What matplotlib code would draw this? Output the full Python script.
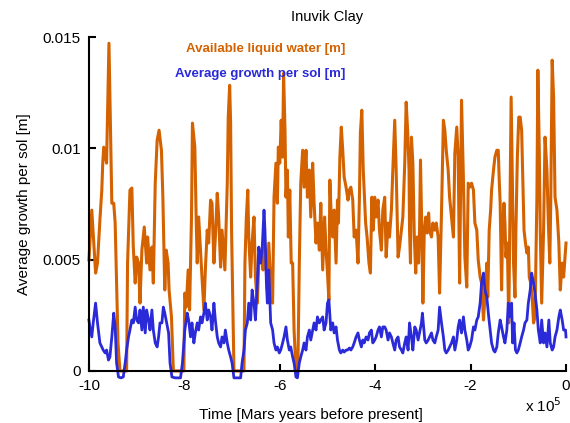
import matplotlib
matplotlib.use("Agg")
import matplotlib.pyplot as plt

plt.rcParams['font.family'] = ['Liberation Sans', 'DejaVu Sans']

# time in units of 1e5 Mars years (negative = before present)
water_t = [-10.0, -9.94, -9.86, -9.82, -9.77, -9.73, -9.71, -9.69, -9.63, -9.58,
           -9.52, -9.48, -9.45, -9.42, -9.39, -9.35, -9.21, -9.19, -9.14, -9.10,
           -9.07, -9.03, -9.00, -8.96, -8.93, -8.89, -8.84, -8.79, -8.77, -8.72,
           -8.68, -8.65, -8.61, -8.57, -8.53, -8.48, -8.45, -8.41, -8.38, -8.34,
           -8.32, -8.27, -8.23, -8.01, -7.99, -7.96, -7.92, -7.89, -7.85, -7.83,
           -7.78, -7.75, -7.73, -7.70, -7.67, -7.63, -7.59, -7.56, -7.52, -7.49,
           -7.45, -7.42, -7.38, -7.35, -7.31, -7.28, -7.24, -7.21, -7.15, -7.10,
           -7.08, -7.05, -7.03, -7.01, -6.98, -6.96, -6.75, -6.73, -6.70, -6.67,
           -6.65, -6.61, -6.58, -6.54, -6.51, -6.47, -6.44, -6.40, -6.35, -6.33,
           -6.29, -6.26, -6.23, -6.19, -6.15, -6.12, -6.08, -6.05, -6.03, -6.00,
           -5.97, -5.94, -5.92, -5.89, -5.87, -5.84, -5.82, -5.79, -5.76, -5.73,
           -5.70, -5.66, -5.62, -5.59, -5.56, -5.52, -5.49, -5.45, -5.42, -5.38,
           -5.35, -5.31, -5.28, -5.24, -5.21, -5.17, -5.14, -5.10, -5.06, -5.03,
           -5.00, -4.97, -4.95, -4.92, -4.89, -4.86, -4.82, -4.79, -4.77, -4.74,
           -4.71, -4.68, -4.65, -4.61, -4.57, -4.54, -4.51, -4.47, -4.44, -4.40,
           -4.36, -4.33, -4.31, -4.28, -4.25, -4.20, -4.17, -4.13, -4.10, -4.07,
           -4.04, -4.01, -3.98, -3.94, -3.91, -3.87, -3.84, -3.80, -3.77, -3.73,
           -3.70, -3.66, -3.63, -3.59, -3.56, -3.52, -3.49, -3.45, -3.42, -3.38,
           -3.35, -3.32, -3.29, -3.28, -3.26, -3.24, -3.21, -3.18, -3.15, -3.12,
           -3.09, -3.07, -3.05, -3.02, -3.00, -2.97, -2.94, -2.91, -2.88, -2.86,
           -2.82, -2.79, -2.75, -2.72, -2.68, -2.65, -2.61, -2.57, -2.54, -2.51,
           -2.47, -2.44, -2.40, -2.36, -2.33, -2.29, -2.26, -2.23, -2.19, -2.15,
           -2.12, -2.08, -2.05, -2.02, -1.98, -1.94, -1.91, -1.87, -1.84, -1.80,
           -1.77, -1.73, -1.70, -1.66, -1.64, -1.61, -1.58, -1.56, -1.52, -1.49,
           -1.45, -1.42, -1.40, -1.38, -1.36, -1.35, -1.33, -1.30, -1.28, -1.26,
           -1.23, -1.20, -1.17, -1.15, -1.12, -1.10, -1.07, -1.05, -1.02, -0.99,
           -0.96, -0.93, -0.91, -0.88, -0.85, -0.82, -0.79, -0.77, -0.74, -0.71,
           -0.68, -0.65, -0.61, -0.59, -0.56, -0.54, -0.51, -0.47, -0.44, -0.40,
           -0.37, -0.34, -0.32, -0.29, -0.26, -0.23, -0.19, -0.15, -0.12, -0.08,
           -0.05, -0.01, 0.0]
# available liquid water, mm
water_mm = [4.99, 7.23, 4.40, 4.85, 6.78, 8.13, 9.34, 10.06, 9.34, 14.73,
            7.54, 7.54, 6.65, 3.95, 1.26, 0.0, 0.0, 4.85, 8.13, 8.22,
            5.57, 3.95, 5.12, 4.85, 3.05, 5.43, 6.47, 4.85, 6.02, 4.54,
            5.57, 3.95, 8.44, 10.37, 10.82, 9.92, 7.81, 3.64, 5.43, 4.85,
            3.64, 2.43, 0.0, 0.0, 3.50, 2.87, 4.54, 2.74, 6.92, 11.14,
            10.06, 6.65, 4.85, 6.92, 5.75, 4.22, 2.74, 4.54, 6.33, 5.75,
            7.68, 7.54, 4.85, 6.02, 7.99, 6.92, 4.67, 6.33, 4.54, 8.44,
            11.41, 12.84, 11.14, 6.33, 2.60, 0.0, 0.0, 4.85, 6.92, 8.13,
            6.02, 4.22, 5.75, 6.92, 4.22, 3.05, 4.85, 5.43, 4.54, 6.33,
            4.85, 3.64, 5.75, 3.95, 3.05, 7.81, 9.34, 7.54, 10.06, 9.34,
            11.27, 9.61, 13.38, 10.82, 7.81, 9.03, 6.02, 8.13, 4.85, 4.85,
            1.84, 0.0, 0.13, 4.85, 8.44, 9.92, 8.26, 9.92, 7.81, 9.03,
            6.92, 9.34, 7.54, 5.75, 6.65, 5.43, 7.54, 4.54, 6.92, 5.43,
            4.40, 3.19, 8.58, 6.92, 6.02, 7.23, 4.85, 7.68, 6.65, 9.61,
            10.96, 9.92, 8.71, 8.26, 7.68, 8.13, 8.26, 7.68, 6.02, 6.33,
            4.85, 7.81, 10.69, 11.72, 9.03, 6.65, 6.02, 4.85, 4.40, 7.81,
            6.33, 7.81, 6.92, 7.68, 6.33, 5.43, 7.23, 7.81, 5.12, 6.65,
            6.02, 7.23, 9.03, 11.27, 9.03, 5.12, 5.57, 6.33, 6.92, 9.34,
            12.08, 10.82, 9.03, 6.33, 4.85, 10.51, 9.34, 6.02, 4.40, 6.02,
            4.85, 6.33, 9.48, 6.02, 3.05, 6.33, 6.92, 6.20, 7.10, 6.33,
            6.02, 6.65, 6.33, 6.65, 6.02, 3.50, 7.10, 11.27, 10.82, 9.92,
            9.03, 7.81, 6.92, 6.02, 9.79, 10.96, 9.61, 3.95, 12.17, 8.58,
            5.12, 3.77, 8.44, 8.26, 8.44, 8.13, 6.65, 6.33, 4.99, 4.22,
            3.95, 2.29, 3.32, 4.85, 3.32, 6.33, 7.23, 8.13, 9.03, 9.61,
            9.92, 9.92, 8.58, 7.54, 4.85, 3.64, 6.33, 7.54, 6.65, 5.12,
            5.75, 2.16, 8.44, 12.31, 7.81, 4.85, 3.32, 6.33, 9.61, 11.41,
            11.41, 10.82, 9.03, 6.33, 5.75, 5.30, 5.57, 4.22, 3.95, 3.32,
            2.16, 2.43, 7.81, 13.52, 9.92, 6.33, 3.05, 6.33, 10.51, 9.03,
            6.65, 4.85, 7.54, 13.97, 12.31, 7.81, 7.23, 5.75, 3.64, 4.85,
            4.22, 5.43, 5.75]

growth_t = [-10.0, -9.98, -9.94, -9.91, -9.86, -9.82, -9.77, -9.73, -9.70, -9.66,
            -9.63, -9.59, -9.56, -9.52, -9.48, -9.45, -9.42, -9.38, -9.33, -9.28,
            -9.24, -9.21, -9.17, -9.14, -9.10, -9.07, -9.03, -9.00, -8.96, -8.93,
            -8.89, -8.86, -8.82, -8.79, -8.75, -8.72, -8.68, -8.65, -8.61, -8.57,
            -8.54, -8.51, -8.47, -8.44, -8.41, -8.37, -8.33, -8.30, -8.26, -8.19,
            -8.08, -8.04, -7.99, -7.94, -7.91, -7.87, -7.84, -7.80, -7.77, -7.73,
            -7.70, -7.66, -7.63, -7.59, -7.56, -7.52, -7.49, -7.45, -7.42, -7.38,
            -7.35, -7.31, -7.28, -7.24, -7.21, -7.17, -7.14, -7.10, -7.07, -7.03,
            -7.00, -6.96, -6.82, -6.79, -6.75, -6.72, -6.68, -6.65, -6.61, -6.58,
            -6.54, -6.51, -6.47, -6.44, -6.40, -6.37, -6.33, -6.31, -6.28, -6.26,
            -6.23, -6.19, -6.15, -6.12, -6.08, -6.05, -6.01, -5.98, -5.94, -5.91,
            -5.87, -5.84, -5.80, -5.77, -5.73, -5.70, -5.66, -5.63, -5.59, -5.56,
            -5.52, -5.49, -5.45, -5.42, -5.38, -5.35, -5.31, -5.28, -5.24, -5.21,
            -5.17, -5.14, -5.10, -5.07, -5.03, -5.00, -4.97, -4.93, -4.89, -4.86,
            -4.82, -4.79, -4.75, -4.72, -4.68, -4.65, -4.61, -4.58, -4.54, -4.51,
            -4.47, -4.44, -4.40, -4.36, -4.33, -4.29, -4.26, -4.23, -4.19, -4.15,
            -4.12, -4.08, -4.05, -4.01, -3.98, -3.94, -3.91, -3.87, -3.84, -3.80,
            -3.77, -3.73, -3.70, -3.66, -3.63, -3.59, -3.56, -3.52, -3.49, -3.45,
            -3.42, -3.38, -3.35, -3.31, -3.28, -3.24, -3.21, -3.17, -3.14, -3.10,
            -3.07, -3.03, -3.01, -2.98, -2.96, -2.93, -2.89, -2.86, -2.82, -2.79,
            -2.75, -2.72, -2.68, -2.65, -2.61, -2.57, -2.54, -2.51, -2.47, -2.44,
            -2.40, -2.36, -2.33, -2.29, -2.26, -2.23, -2.19, -2.15, -2.12, -2.08,
            -2.05, -2.02, -1.98, -1.94, -1.91, -1.87, -1.84, -1.80, -1.77, -1.73,
            -1.70, -1.66, -1.62, -1.59, -1.56, -1.52, -1.49, -1.45, -1.42, -1.38,
            -1.35, -1.31, -1.28, -1.24, -1.21, -1.17, -1.14, -1.12, -1.09, -1.06,
            -1.03, -1.00, -0.96, -0.93, -0.89, -0.86, -0.82, -0.79, -0.75, -0.72,
            -0.68, -0.65, -0.61, -0.58, -0.54, -0.51, -0.47, -0.44, -0.40, -0.36,
            -0.33, -0.29, -0.26, -0.23, -0.19, -0.15, -0.12, -0.08, -0.05, -0.01,
            0.0]
# average growth per sol, mm
growth_mm = [2.29, 1.98, 1.53, 2.16, 3.05, 2.16, 1.26, 1.08, 0.94, 0.81,
             0.94, 0.49, 0.63, 1.53, 2.60, 1.98, 0.36, -0.27, -0.31, -0.27,
             0.36, 0.94, 1.53, 1.84, 2.29, 2.16, 2.87, 2.29, 2.16, 2.74,
             1.84, 2.87, 1.71, 2.74, 2.29, 1.84, 2.74, 1.84, 1.26, 1.08,
             1.53, 2.16, 2.16, 2.87, 2.60, 2.16, 1.71, 0.36, -0.27, -0.31,
             -0.31, 0.36, 1.84, 2.60, 2.29, 1.53, 2.16, 1.26, 1.71, 2.16,
             1.84, 2.43, 2.16, 2.60, 3.05, 2.29, 2.74, 2.43, 1.84, 3.05,
             2.29, 1.53, 1.26, 1.08, 1.53, 1.26, 1.84, 1.26, 0.94, 0.63,
             0.36, -0.31, -0.31, 0.36, 0.94, 1.84, 2.16, 3.05, 2.29, 3.64,
             3.05, 2.29, 3.95, 5.57, 4.85, 5.43, 7.23, 6.33, 3.95, 3.05,
             4.54, 2.16, 1.84, 1.26, 0.94, 1.08, 0.81, 0.94, 1.26, 1.53,
             1.98, 1.39, 0.94, 1.08, 0.63, 0.36, -0.27, -0.31, 0.36, 0.63,
             0.94, 1.26, 0.94, 1.53, 1.84, 1.39, 1.84, 2.16, 1.84, 2.43,
             2.16, 2.29, 2.43, 1.84, 2.16, 3.05, 3.19, 1.84, 2.16, 1.71,
             1.98, 1.39, 0.94, 0.81, 0.94, 0.85, 0.94, 0.94, 1.03, 0.94,
             1.08, 1.26, 1.53, 1.71, 1.39, 1.08, 1.39, 1.26, 1.53, 1.39,
             1.71, 1.84, 1.26, 1.39, 1.53, 1.84, 1.98, 1.53, 1.98, 1.98,
             1.84, 1.39, 1.71, 1.53, 1.26, 0.94, 1.39, 1.53, 1.08, 0.94,
             0.81, 1.26, 1.53, 0.94, 2.16, 1.53, 0.94, 1.98, 1.84, 1.39,
             1.71, 2.16, 2.60, 1.84, 1.39, 1.26, 1.39, 1.53, 1.71, 1.39,
             1.26, 1.53, 1.84, 2.87, 2.16, 1.53, 0.94, 0.81, 0.94, 1.08,
             1.26, 1.53, 0.94, 1.39, 1.98, 2.29, 1.71, 2.43, 1.84, 1.39,
             0.94, 1.08, 1.39, 1.98, 1.84, 2.29, 2.43, 3.05, 3.95, 4.40,
             3.64, 3.32, 2.43, 1.84, 1.26, 0.94, 0.85, 1.08, 1.71, 2.29,
             1.98, 1.53, 1.26, 1.84, 3.05, 2.43, 3.05, 1.26, 2.16, 0.94,
             0.81, 0.94, 1.26, 1.53, 1.84, 2.16, 2.29, 3.05, 3.64, 4.40,
             3.95, 3.50, 2.74, 1.84, 1.26, 2.29, 1.26, 1.71, 1.08, 2.29,
             1.26, 0.94, 1.08, 1.53, 1.84, 2.43, 2.74, 2.29, 1.84, 1.84,
             1.53]

xticks = [-10, -8, -6, -4, -2, 0]
yticks = [0, 0.005, 0.01, 0.015]
ytick_labels = ['0', '0.005', '0.01', '0.015']

orange = '#d46200'
blue = '#2a2ad8'

fig = plt.figure(figsize=(5.7, 4.23), dpi=100)
ax = fig.add_axes([0.156, 0.123, 0.837, 0.789])

ax.plot(water_t, [v / 1000 for v in water_mm], color=orange, lw=2.2, clip_on=False)
ax.plot(growth_t, [v / 1000 for v in growth_mm], color=blue, lw=2.0, clip_on=False)

ax.set_xlim(-10, 0)
ax.set_ylim(0, 0.015)
ax.set_xticks(xticks)
ax.set_xticklabels([str(t) for t in xticks])
ax.set_yticks(yticks)
ax.set_yticklabels(ytick_labels)
ax.tick_params(direction='in', length=5, width=1.5, labelsize=11, pad=6)

for side in ['top', 'right']:
    ax.spines[side].set_visible(False)
for side in ['left', 'bottom']:
    ax.spines[side].set_linewidth(1.5)

ax.set_title('Inuvik Clay', fontsize=10.5, pad=12)
ax.set_ylabel('Average growth per sol [m]', fontsize=11, labelpad=8)
ax.set_xlabel('Time [Mars years before present]', fontsize=11)
ax.xaxis.set_label_coords(0.465, -0.11)

ax.text(0.99, -0.105, r'x 10$^5$', transform=ax.transAxes, ha='right', va='center', fontsize=11)

ax.text(0.538, 0.965, 'Available liquid water [m]', transform=ax.transAxes,
        ha='right', va='center', color=orange, fontsize=9.5, fontweight='bold')
ax.text(0.538, 0.89, 'Average growth per sol [m]', transform=ax.transAxes,
        ha='right', va='center', color=blue, fontsize=9.5, fontweight='bold')

fig.savefig('out.png', dpi=100)
